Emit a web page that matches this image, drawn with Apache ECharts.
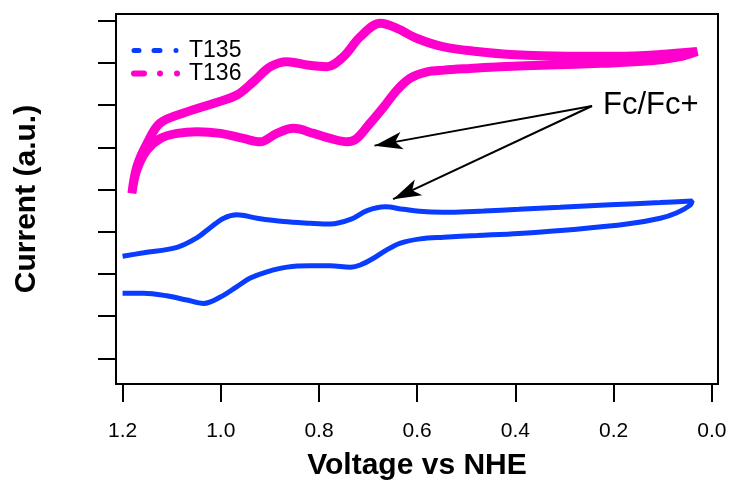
<!DOCTYPE html>
<html>
<head>
<meta charset="utf-8">
<script src="https://cdn.jsdelivr.net/npm/echarts@6/dist/echarts.min.js"></script>
<style>
  html, body { margin: 0; padding: 0; background: #fff; }
  #chart { width: 733px; height: 481px; }
</style>
</head>
<body>
<div id="chart"></div>
<script>
// voltage ticks (V vs NHE) and current ticks (a.u., unlabelled)
const voltTicks = [0.0, 0.2, 0.4, 0.6, 0.8, 1.0, 1.2]
const currentTicks = [0, 1, 2, 3, 4, 5, 6, 7, 8]

// T135 cyclic voltammogram: upper branch then return branch, [V, current]
const t135 = [
  [1.200, 2.42], [1.157, 2.50], [1.089, 2.63], [1.048, 2.86], [1.021, 3.10],
  [0.994, 3.32], [0.967, 3.40], [0.926, 3.32], [0.872, 3.24], [0.818, 3.20],
  [0.777, 3.18], [0.736, 3.29], [0.702, 3.50], [0.665, 3.59], [0.628, 3.53],
  [0.580, 3.47], [0.533, 3.46], [0.465, 3.49], [0.393, 3.53], [0.309, 3.58],
  [0.207, 3.64], [0.105, 3.69], [0.040, 3.73],
  [0.044, 3.63], [0.071, 3.45], [0.105, 3.32], [0.173, 3.18], [0.275, 3.06],
  [0.393, 2.96], [0.478, 2.91], [0.546, 2.87], [0.594, 2.83], [0.634, 2.73],
  [0.662, 2.57], [0.689, 2.37], [0.716, 2.21], [0.736, 2.16], [0.777, 2.19],
  [0.818, 2.19], [0.865, 2.16], [0.906, 2.05], [0.940, 1.90], [0.967, 1.70],
  [1.001, 1.45], [1.035, 1.30], [1.069, 1.38], [1.110, 1.48], [1.157, 1.54],
  [1.200, 1.54]
]

// T136 cyclic voltammogram
const t136 = [
  [1.181, 3.91], [1.171, 4.54], [1.150, 5.10], [1.123, 5.58], [1.069, 5.84],
  [1.015, 6.04], [0.967, 6.24], [0.933, 6.56], [0.899, 6.91], [0.865, 7.03],
  [0.824, 6.95], [0.784, 6.91], [0.750, 7.15], [0.716, 7.62], [0.675, 7.94],
  [0.641, 7.82], [0.600, 7.58], [0.546, 7.38], [0.478, 7.27], [0.410, 7.20],
  [0.295, 7.16], [0.193, 7.16], [0.105, 7.20], [0.030, 7.27],
  [0.064, 7.15], [0.125, 7.05], [0.227, 6.99], [0.329, 6.95], [0.431, 6.91],
  [0.492, 6.87], [0.546, 6.83], [0.580, 6.79], [0.614, 6.64], [0.641, 6.36],
  [0.668, 5.96], [0.696, 5.57], [0.723, 5.21], [0.743, 5.13], [0.777, 5.21],
  [0.811, 5.33], [0.852, 5.45], [0.886, 5.33], [0.920, 5.13], [0.954, 5.21],
  [1.001, 5.33], [1.048, 5.37], [1.089, 5.33], [1.123, 5.21], [1.150, 4.94],
  [1.171, 4.46], [1.181, 3.91]
]

// Fc/Fc+ annotation: label anchor and the two arrow tips
const fcAnchor = [0.244, 5.98]
const fcTips = [[0.687, 5.04], [0.649, 3.77]]

const font = 'Liberation Sans'
const chart = echarts.init(document.getElementById('chart'))

chart.setOption({
  animation: false,
  grid: {
    left: 116,
    right: 15,
    top: 14,
    bottom: 97,
    outerBoundsMode: 'none',
    show: true,
    borderColor: '#000',
    borderWidth: 2,
  },
  legend: {
    orient: 'vertical',
    left: 131,
    top: 39,
    padding: 0,
    itemWidth: 50,
    itemHeight: 14,
    itemGap: 0,
    textStyle: { fontFamily: font, fontSize: 23, lineHeight: 23, color: '#000' },
    data: [
      {
        name: 'T135',
        itemStyle: { opacity: 0 },
        lineStyle: { type: [5, 15, 6, 16, 0.01, 20], width: 5, cap: 'round' },
      },
      {
        name: 'T136',
        itemStyle: { opacity: 0 },
        lineStyle: { type: [10, 16, 0.01, 17, 0.01, 20], width: 6, cap: 'round' },
      },
    ],
  },
  xAxis: {
    type: 'value',
    inverse: true,
    min: -0.0126,
    max: 1.2134,
    name: 'Voltage vs NHE',
    nameLocation: 'middle',
    nameGap: 67,
    nameTextStyle: { fontFamily: font, fontSize: 30, fontWeight: 'bold', color: '#000' },
    axisLine: { show: true, onZero: false, lineStyle: { color: '#000', width: 2 } },
    axisTick: { show: true, length: 18, customValues: voltTicks, lineStyle: { color: '#000', width: 2 } },
    axisLabel: {
      customValues: voltTicks,
      margin: 37,
      fontFamily: font,
      fontSize: 21,
      color: '#000',
      formatter: (v) => v.toFixed(1),
    },
    splitLine: { show: false },
  },
  yAxis: {
    type: 'value',
    min: -0.61,
    max: 8.16,
    name: 'Current (a.u.)',
    nameLocation: 'middle',
    nameGap: 74,
    nameTextStyle: { fontFamily: font, fontSize: 30, fontWeight: 'bold', color: '#000' },
    axisLine: { show: true, onZero: false, lineStyle: { color: '#000', width: 2 } },
    axisTick: { show: true, length: 18, customValues: currentTicks, lineStyle: { color: '#000', width: 2 } },
    axisLabel: { show: false },
    splitLine: { show: false },
  },
  graphic: [
    {
      type: 'text',
      left: 603,
      top: 90,
      style: { text: 'Fc/Fc+', fontFamily: font, fontSize: 31, fill: '#000' },
    },
  ],
  series: [
    {
      name: 'T135',
      type: 'line',
      data: t135,
      symbol: 'none',
      smooth: 0.35,
      lineStyle: { color: '#0a3cff', width: 5 },
      itemStyle: { color: '#0a3cff' },
      markLine: {
        silent: true,
        symbol: ['none', 'arrow'],
        symbolSize: [13, 28],
        label: { show: false },
        lineStyle: { color: '#000', width: 2, type: 'solid' },
        data: fcTips.map((tip) => [{ coord: fcAnchor }, { coord: tip }]),
      },
    },
    {
      name: 'T136',
      type: 'line',
      data: t136,
      symbol: 'none',
      smooth: 0.35,
      lineStyle: { color: '#ff00cc', width: 9 },
      itemStyle: { color: '#ff00cc' },
    },
  ],
})
</script>
</body>
</html>
